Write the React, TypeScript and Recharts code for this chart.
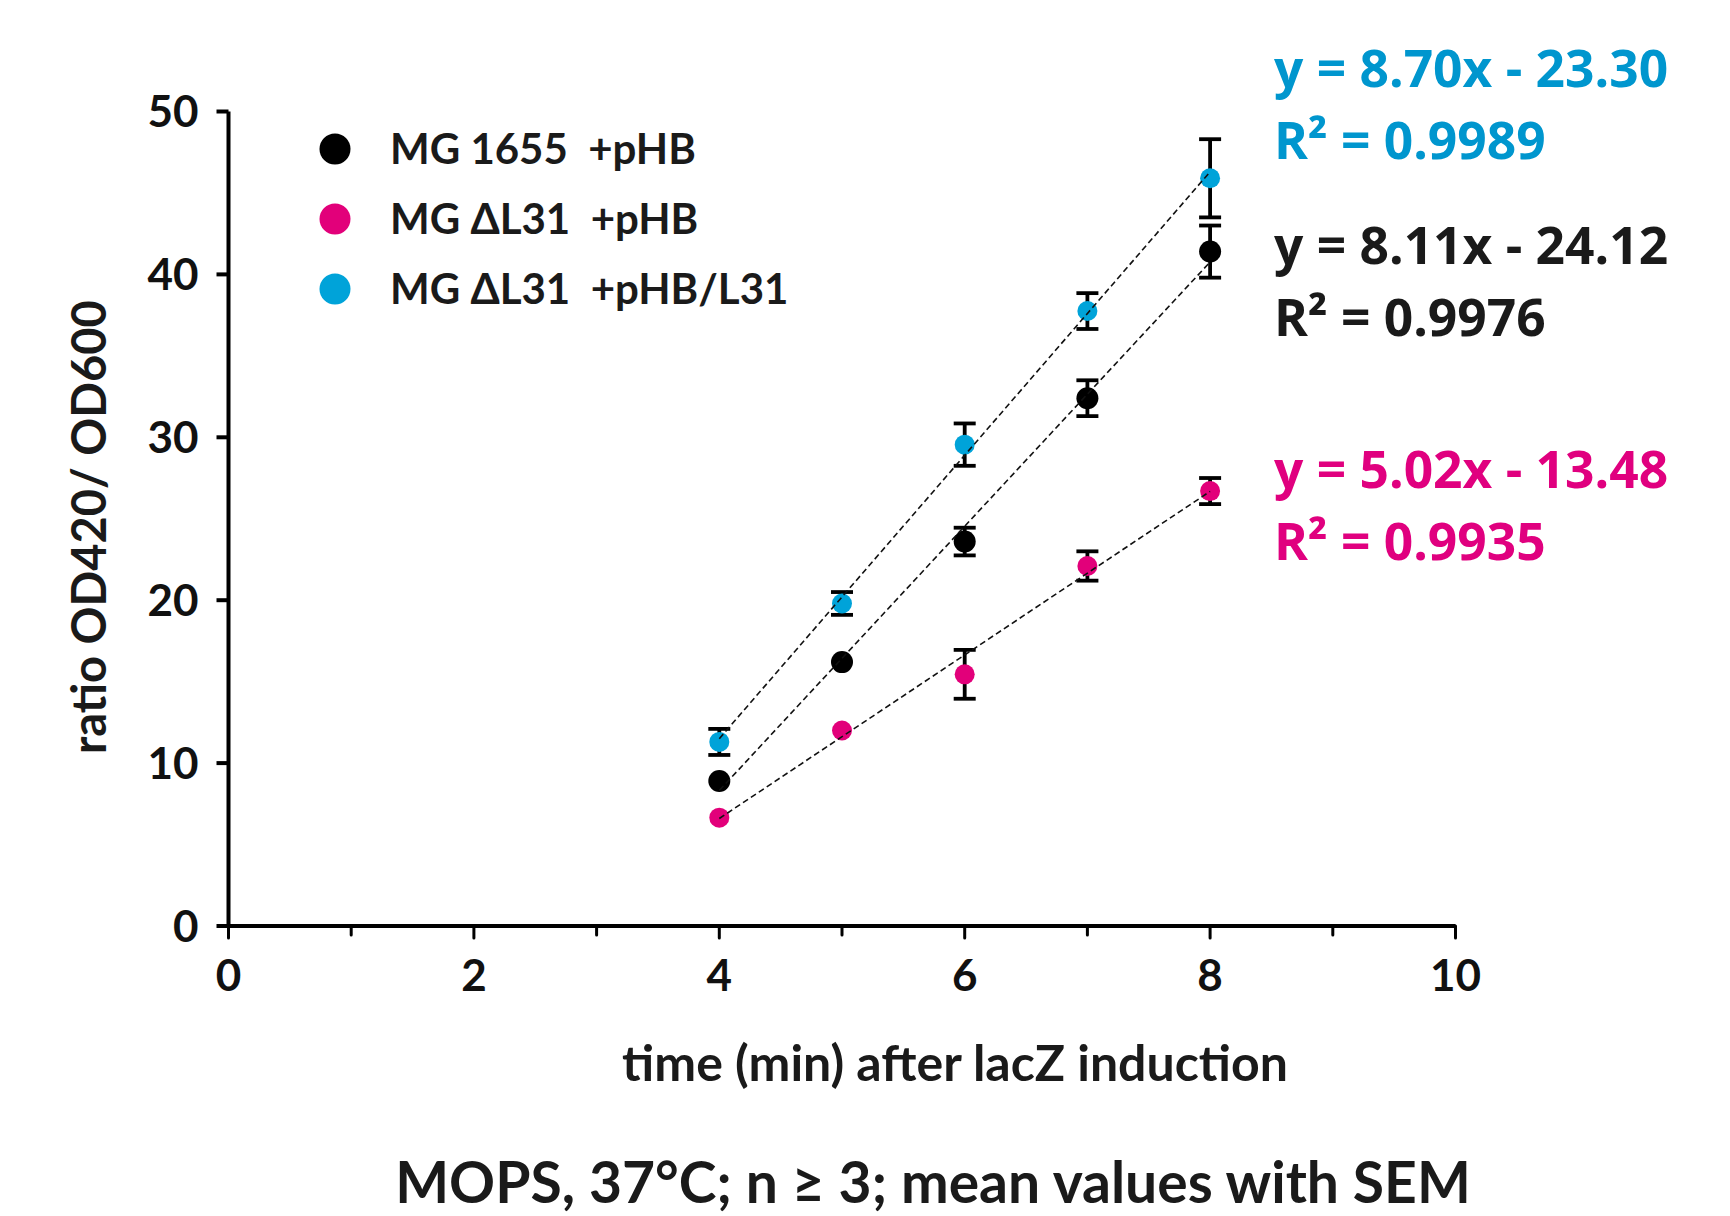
import React from 'react';
import { ScatterChart, Scatter, XAxis, YAxis, ErrorBar, Legend } from 'recharts';

// ---- data ----
const times = [4, 5, 6, 7, 8];
const wtValues = [8.9, 16.2, 23.6, 32.4, 41.4];
const wtErrors = [0, 0, 0.85, 1.1, 1.6];
const deltaValues = [6.65, 12.0, 15.45, 22.1, 26.7];
const deltaErrors = [0, 0, 1.5, 0.9, 0.8];
const rescueValues = [11.3, 19.8, 29.55, 37.75, 45.9];
const rescueErrors = [0.8, 0.7, 1.3, 1.1, 2.4];

const seriesNames = ['MG 1655  +pHB', 'MG \u0394L31  +pHB', 'MG \u0394L31  +pHB/L31'];
const seriesColors = ['#000000', '#E2007A', '#00A3D9'];
const textColors = ['#1a1a1a', '#E0007F', '#0096CE'];

// fitted lines as printed on the figure
const fitSlopes = [8.11, 5.02, 8.7];
const fitIntercepts = [-24.12, -13.48, -23.3];
const fitR2 = ['0.9976', '0.9935', '0.9989'];
const fitRange = [4, 8];

const xTicks = [0, 1, 2, 3, 4, 5, 6, 7, 8, 9, 10];
const yTicks = [0, 10, 20, 30, 40, 50];

const xTitle = 'time (min) after lacZ induction';
const yTitle = 'ratio OD420/ OD600';
const caption = 'MOPS, 37\u00B0C; n \u2265 3; mean values with SEM';

const FONT = 'Lato, "Open Sans", sans-serif';

const build = (vals: number[], errs: number[]) =>
  times.map((t, i) => ({ x: t, y: vals[i], err: errs[i] }));

const wtData = build(wtValues, wtErrors);
const deltaData = build(deltaValues, deltaErrors);
const rescueData = build(rescueValues, rescueErrors);

const fitData = fitSlopes.map((m, i) =>
  fitRange.map((x) => ({ x, y: m * x + fitIntercepts[i] }))
);

const dot = (color: string, r: number) => (props: any) => (
  <circle cx={props.cx} cy={props.cy} r={r} fill={color} />
);

const XTick = (props: any) => {
  const { x, y, payload } = props;
  const v = payload.value as number;
  const major = v % 2 === 0;
  return (
    <g>
      <line x1={x} x2={x} y1={y} y2={y + (major ? 12 : 9)} stroke="#000" strokeWidth={3} strokeLinecap="round" />
      {major && (
        <text x={x} y={y + 65} textAnchor="middle" fontFamily={FONT} fontWeight={700} fontSize={44} fill="#111">
          {v}
        </text>
      )}
    </g>
  );
};

const LegendBox = () => (
  <svg width={800} height={340}>
    {seriesNames.map((n, i) => {
      const cy = 149 + i * 70;
      return (
        <g key={n}>
          <circle cx={335} cy={cy} r={15.5} fill={seriesColors[i]} />
          <text x={390} y={cy + 15} fontFamily={FONT} fontWeight={700} fontSize={42} fill="#1a1a1a" xmlSpace="preserve" style={{ whiteSpace: 'pre' }}>
            {n}
          </text>
        </g>
      );
    })}
  </svg>
);

const eqBaselines = [[264, 336], [488, 560], [87, 159]];

export default function App() {
  return (
    <div style={{ position: 'absolute', left: 0, top: 0, width: 1730, height: 1216, background: '#fff' }}>
      <ScatterChart
        width={1730}
        height={1216}
        margin={{ top: 111.5, right: 274.5, bottom: 210, left: 108.5 }}
      >
        <XAxis
          type="number"
          dataKey="x"
          domain={[0, 10]}
          ticks={xTicks}
          interval={0}
          height={80}
          axisLine={{ stroke: '#000', strokeWidth: 4 }}
          tickLine={false}
          tickSize={0}
          tickMargin={0}
          tick={<XTick />}
        />
        <YAxis
          type="number"
          dataKey="y"
          domain={[0, 50]}
          ticks={yTicks}
          interval={0}
          width={120}
          axisLine={{ stroke: '#000', strokeWidth: 4 }}
          tickLine={{ stroke: '#000', strokeWidth: 4 }}
          tickSize={12}
          tickMargin={18}
          tick={{ fontFamily: FONT, fontWeight: 700, fontSize: 44, fill: '#111' }}
        />
        <Legend
          layout="vertical"
          align="center"
          verticalAlign="middle"
          content={<LegendBox />}
          wrapperStyle={{ left: 0, top: 0, width: 800, height: 340 }}
        />
        <Scatter name={seriesNames[2]} data={rescueData} fill={seriesColors[2]} shape={dot(seriesColors[2], 10)} isAnimationActive={false}>
          <ErrorBar dataKey="err" direction="y" width={11} stroke="#000" strokeWidth={3.8} isAnimationActive={false} />
        </Scatter>
        <Scatter name={seriesNames[0]} data={wtData} fill={seriesColors[0]} shape={dot(seriesColors[0], 11)} isAnimationActive={false}>
          <ErrorBar dataKey="err" direction="y" width={11} stroke="#000" strokeWidth={3.8} isAnimationActive={false} />
        </Scatter>
        <Scatter name={seriesNames[1]} data={deltaData} fill={seriesColors[1]} shape={dot(seriesColors[1], 10)} isAnimationActive={false}>
          <ErrorBar dataKey="err" direction="y" width={11} stroke="#000" strokeWidth={3.8} isAnimationActive={false} />
        </Scatter>
        {fitData.map((d, i) => (
          <Scatter
            key={'fit' + i}
            data={d}
            legendType="none"
            line={{ stroke: '#111', strokeWidth: 1.6, strokeDasharray: '6 3.5' }}
            shape={() => <g />}
            isAnimationActive={false}
          />
        ))}
      </ScatterChart>
      <svg width={1730} height={1216} style={{ position: 'absolute', left: 0, top: 0, pointerEvents: 'none' }}>
        <text x={955} y={1081} textAnchor="middle" fontFamily={FONT} fontWeight={700} fontSize={50} fill="#1a1a1a">
          {xTitle}
        </text>
        <text
          x={0}
          y={0}
          transform="translate(106,527) rotate(-90)"
          textAnchor="middle"
          fontFamily={FONT}
          fontWeight={700}
          fontSize={47}
          fill="#1a1a1a"
        >
          {yTitle}
        </text>
        <text x={933} y={1203} textAnchor="middle" fontFamily={FONT} fontWeight={700} fontSize={57} fill="#1a1a1a">
          {caption}
        </text>
        {fitSlopes.map((m, i) => {
          const b = fitIntercepts[i];
          const eq = `y = ${m.toFixed(2)}x - ${Math.abs(b).toFixed(2)}`;
          return (
            <g key={'eq' + i} fontFamily='"Open Sans", sans-serif' fontWeight={700} fontSize={51.5} fill={textColors[i]}>
              <text x={1274} y={eqBaselines[i][0]}>{eq}</text>
              <text x={1274} y={eqBaselines[i][1]}>{'R\u00B2 = ' + fitR2[i]}</text>
            </g>
          );
        })}
      </svg>
    </div>
  );
}
